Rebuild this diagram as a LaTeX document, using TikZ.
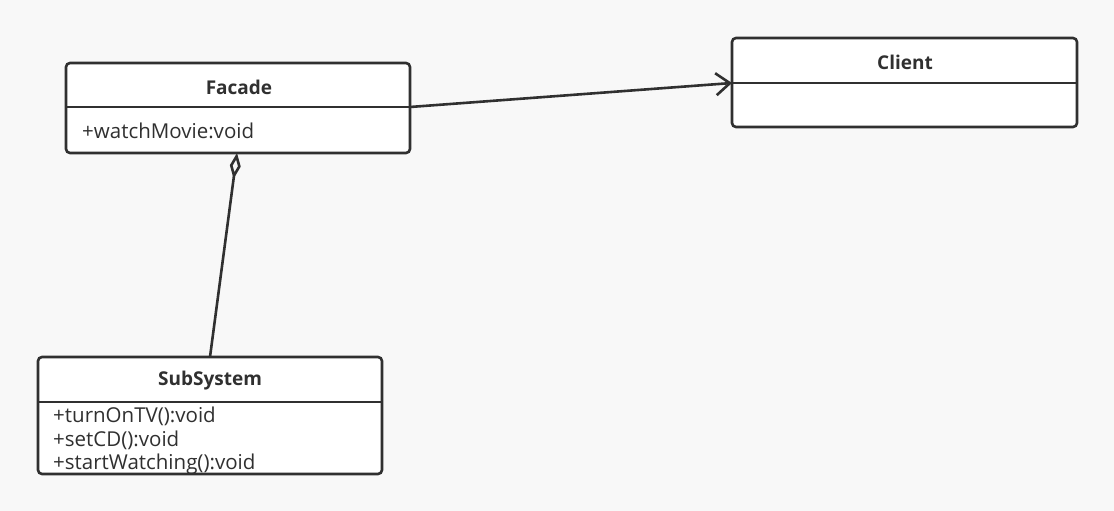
\documentclass[tikz,border=0pt]{standalone}
\usepackage{fontspec}
\setmainfont{Open Sans}
\usetikzlibrary{arrows.meta}
\definecolor{bg}{HTML}{F8F8F8}
\definecolor{ink}{HTML}{303030}
\begin{document}
\begin{tikzpicture}[x=1pt,y=-1pt,
  classbox/.style={draw=ink,fill=white,line width=2.6pt,rounded corners=4pt},
  divider/.style={draw=ink,line width=2.6pt},
  title/.style={font=\bfseries\fontsize{19}{21}\selectfont,text=ink,inner sep=0pt},
  member/.style={font=\fontsize{20.5}{22}\selectfont,text=ink,inner sep=0pt,anchor=west},
  link/.style={draw=ink,line width=2.6pt}]
\fill[bg] (0,0) rectangle (1114,511);
\useasboundingbox (0,0) rectangle (1114,511);

% Facade class
\path[classbox] (66,63) rectangle (410,153);
\draw[divider] (66,107) -- (410,107);
\node[title] (facade) at (239,87) {Facade};
\node[member] (fm1) at (82,131) {+watchMovie:void};
\coordinate (facadeR) at (410,107);
\coordinate (facadeB) at (237,153);

% Client class
\path[classbox] (732,38) rectangle (1077,127);
\draw[divider] (732,83) -- (1077,83);
\node[title] (client) at (905,62) {Client};
\coordinate (clientL) at (732,83);

% SubSystem class
\path[classbox] (38,357) rectangle (382,474);
\draw[divider] (38,402) -- (382,402);
\node[title] (subsystem) at (210,381) {SubSystem};
\node[member] (sm1) at (53,416) {+turnOnTV():void};
\node[member] (sm2) at (53,440) {+setCD():void};
\node[member] (sm3) at (53,464) {+startWatching():void};
\coordinate (subT) at (210,357);

% association and aggregation
\draw[link,-{Straight Barb[length=14pt,width=22pt]}] (facadeR) -- (clientL);
\draw[link,{Diamond[open,length=26pt,width=11pt]}-] (facadeB) -- (subT);
\end{tikzpicture}
\end{document}
